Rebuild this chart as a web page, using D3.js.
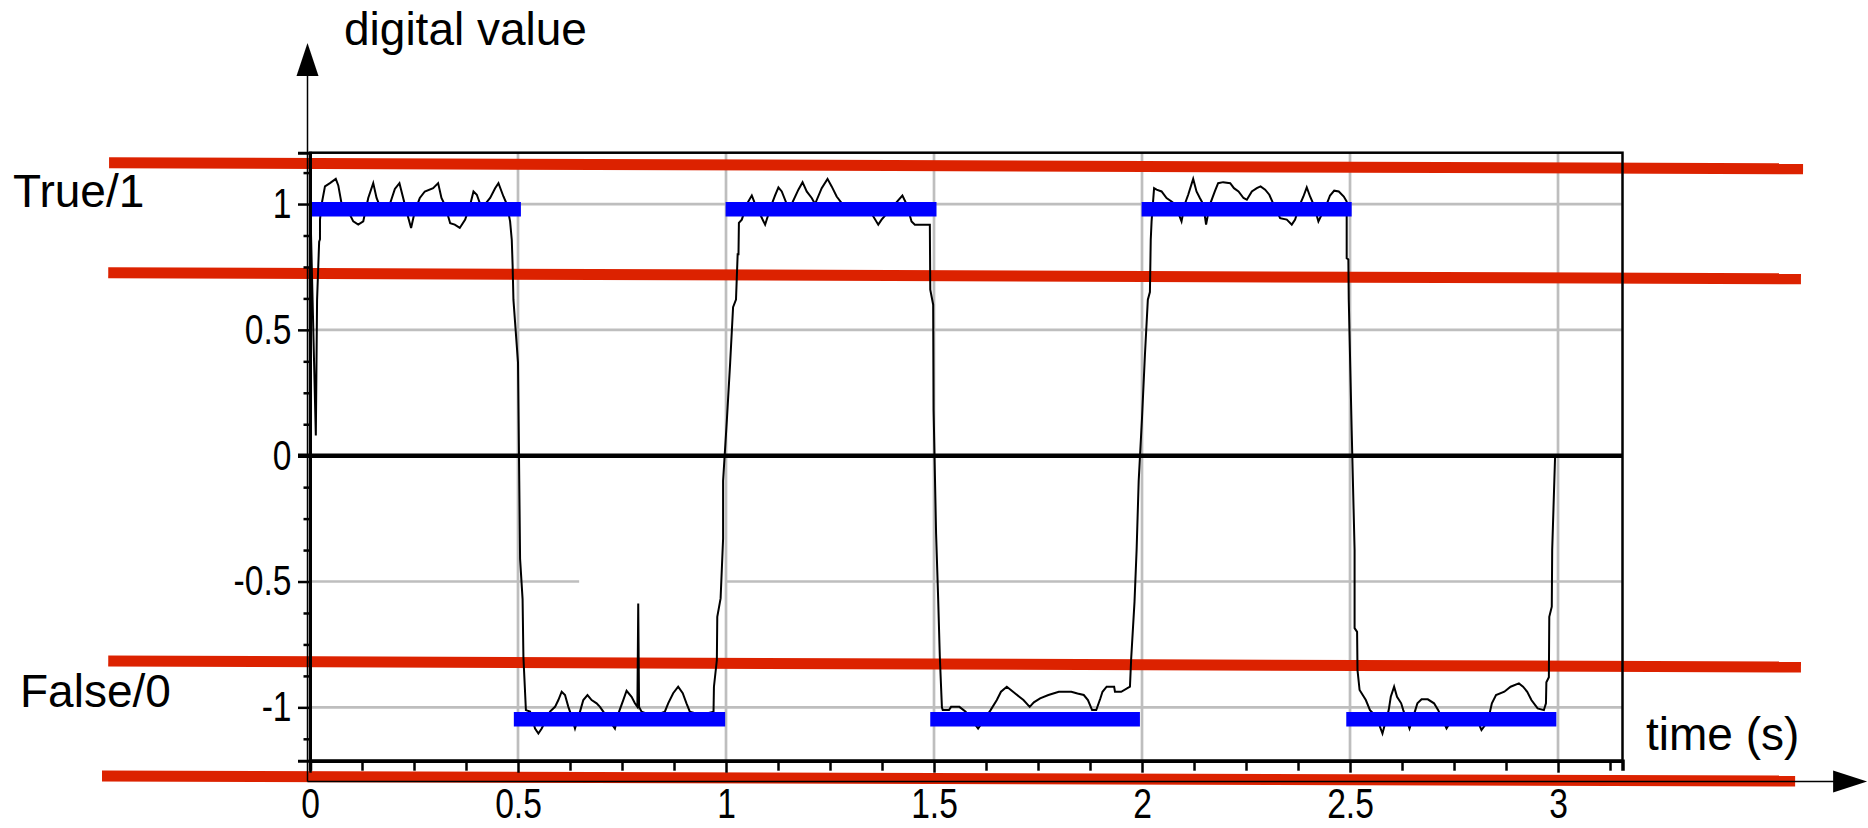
<!DOCTYPE html>
<html>
<head>
<meta charset="utf-8">
<script src="https://cdn.jsdelivr.net/npm/d3@7"></script>
<style>
body { margin: 0; background: #fff; }
text { font-family: "Liberation Sans", Arial, sans-serif; }
</style>
</head>
<body>
<script>
let signalT = [0.001, 0.002, 0.014, 0.017, 0.022, 0.024, 0.024, 0.028, 0.036, 0.048, 0.062, 0.068, 0.076, 0.084, 0.104, 0.116, 0.128, 0.140, 0.152, 0.160, 0.166, 0.192, 0.204, 0.215, 0.224, 0.232, 0.243, 0.252, 0.264, 0.276, 0.296, 0.308, 0.316, 0.324, 0.337, 0.348, 0.360, 0.373, 0.385, 0.393, 0.401, 0.409, 0.421, 0.433, 0.445, 0.453, 0.465, 0.473, 0.481, 0.485,
    0.487, 0.489, 0.500, 0.505, 0.511, 0.513, 0.519,
    0.529, 0.541, 0.549, 0.557, 0.577, 0.589, 0.597, 0.605, 0.613, 0.621, 0.625, 0.637, 0.649, 0.657, 0.667, 0.677, 0.689, 0.697, 0.705, 0.733, 0.743, 0.753, 0.761, 0.773, 0.781, 0.787, 0.789, 0.791, 0.797, 0.825, 0.853, 0.861, 0.873, 0.885, 0.896, 0.905, 0.913, 0.940, 0.970, 0.971, 0.978, 0.979, 0.987,
    0.993, 0.993, 1.002, 1.010, 1.017, 1.024, 1.028, 1.030, 1.031, 1.038,
    1.050, 1.062, 1.070, 1.094, 1.110, 1.118, 1.126, 1.134, 1.146, 1.158, 1.174, 1.184, 1.194, 1.206, 1.214, 1.230, 1.244, 1.254, 1.266, 1.278, 1.294, 1.330, 1.342, 1.366, 1.374, 1.406, 1.424, 1.434, 1.446, 1.454, 1.490,
    1.491, 1.498, 1.499, 1.505, 1.510, 1.514, 1.519,
    1.521, 1.536, 1.541, 1.561, 1.576, 1.606, 1.636, 1.651, 1.661, 1.675, 1.690, 1.705, 1.715, 1.730, 1.740, 1.755, 1.775, 1.800, 1.830, 1.845, 1.860, 1.870, 1.880, 1.890, 1.900, 1.905, 1.915, 1.933, 1.935, 1.950, 1.971,
    1.974, 1.982, 1.987, 1.992, 2.000, 2.007, 2.014, 2.019, 2.021, 2.023, 2.029,
    2.035, 2.047, 2.059, 2.071, 2.079, 2.095, 2.103, 2.111, 2.123, 2.131, 2.139, 2.147, 2.154, 2.163, 2.175, 2.183, 2.195, 2.212, 2.221, 2.232, 2.244, 2.252, 2.264, 2.276, 2.285, 2.296, 2.306, 2.316, 2.332, 2.348, 2.360, 2.368, 2.380, 2.388, 2.396, 2.404, 2.412, 2.424, 2.444, 2.452, 2.462, 2.473, 2.485, 2.492,
    2.492, 2.496, 2.497, 2.504, 2.511, 2.511, 2.517, 2.518,
    2.523, 2.538, 2.548, 2.563, 2.578, 2.593, 2.598, 2.606, 2.613, 2.623, 2.628, 2.643, 2.657, 2.662, 2.672, 2.687, 2.702, 2.712, 2.732, 2.752, 2.802, 2.816, 2.831, 2.841, 2.851, 2.871, 2.886, 2.906, 2.916, 2.926, 2.936, 2.951, 2.966, 2.971,
    2.972, 2.978, 2.979, 2.985, 2.986, 2.993];
let signalV = [0.08, 0.91, 0.08, 0.62, 0.85, 0.86, 0.938, 1.0, 1.07, 1.083, 1.10, 1.074, 1.0, 0.997, 0.931, 0.918, 0.931, 1.024, 1.083, 1.024, 1.0, 1.0, 1.06, 1.083, 1.024, 0.971, 0.905, 0.971, 1.024, 1.05, 1.063, 1.083, 1.024, 0.997, 0.924, 0.918, 0.905, 0.938, 0.997, 1.05, 1.037, 1.0, 1.0, 1.024, 1.063, 1.083, 1.03, 1.0, 0.931, 0.858,
    0.76, 0.62, 0.37, -0.41, -0.57, -0.80, -1.011,
    -1.017, -1.084, -1.104, -1.084, -1.017, -0.998, -0.971, -0.938, -0.951, -0.998, -1.017, -1.084, -1.017, -0.971, -0.951, -0.971, -0.984, -0.998, -1.017, -1.084, -1.017, -0.971, -0.934, -0.958, -0.984, -0.998, -0.587, -0.998, -1.017, -1.035, -1.017, -0.984, -0.944, -0.918, -0.944, -0.984, -1.017, -1.03, -1.017, -0.918, -0.812, -0.64, -0.567,
    -0.33, -0.10, 0.14, 0.37, 0.59, 0.62, 0.80, 0.80, 0.925, 0.938,
    1.0, 1.034, 1.0, 0.918, 1.0, 1.034, 1.066, 1.05, 1.0, 1.0, 1.057, 1.087, 1.05, 1.024, 1.0, 1.063, 1.10, 1.07, 1.03, 1.004, 1.0, 1.0, 0.984, 0.918, 0.938, 1.0, 1.034, 1.0, 0.931, 0.918, 0.918,
    0.66, 0.60, 0.18, -0.31, -0.57, -0.80, -1.0,
    -1.011, -1.011, -0.998, -0.998, -1.017, -1.084, -1.011, -0.971, -0.938, -0.918, -0.938, -0.958, -0.971, -0.998, -0.980, -0.964, -0.951, -0.938, -0.938, -0.945, -0.951, -0.971, -1.011, -1.011, -0.964, -0.938, -0.918, -0.918, -0.938, -0.938, -0.918,
    -0.805, -0.58, -0.375, -0.10, 0.15, 0.40, 0.62, 0.65, 0.858, 0.931, 1.063,
    1.057, 1.050, 1.024, 1.01, 1.0, 0.931, 1.0, 1.037, 1.10, 1.05, 1.024, 1.0, 0.918, 0.997, 1.05, 1.083, 1.087, 1.083, 1.063, 1.05, 1.024, 1.017, 1.05, 1.063, 1.07, 1.057, 1.037, 1.0, 0.944, 0.938, 0.918, 0.938, 1.0, 1.03, 1.066, 1.03, 1.0, 0.931, 1.0, 1.034, 1.053, 1.05, 1.03, 1.01,
    0.785, 0.78, 0.62, 0.10, -0.375, -0.685, -0.70, -0.852,
    -0.931, -0.971, -1.011, -1.037, -1.104, -1.011, -0.958, -0.918, -0.958, -0.984, -1.011, -1.084, -1.011, -0.984, -0.968, -0.968, -0.984, -1.011, -1.084, -1.031, -1.037, -1.090, -1.057, -0.984, -0.951, -0.938, -0.918, -0.905, -0.918, -0.938, -0.971, -1.004, -1.011, -0.984,
    -0.90, -0.88, -0.64, -0.60, -0.375, 0.0];

let xTickLabels = [0, 0.5, 1, 1.5, 2, 2.5, 3];
let yTickLabels = [-1, -0.5, 0, 0.5, 1];
// interpreted logic levels (blue) and their time spans
let trueSpans = [[0, 0.507], [0.999, 1.506], [1.999, 2.504]];
let falseSpans = [[0.490, 0.998], [1.491, 1.995], [2.491, 2.996]];
let trueLevel = 0.979;
let falseLevel = -1.047;
// red threshold bands: [t start, value start, t end, value end]
let thresholds = [[-0.483, 1.164, 3.589, 1.140], [-0.485, 0.727, 3.584, 0.703],
    [-0.485, -0.816, 3.584, -0.840], [-0.500, -1.273, 3.570, -1.293]];
// horizontal grid pieces: [value, t start, t end]
let gridRows = [[1, 0, 3.155], [0.5, 0, 3.155], [-0.5, 0, 0.647], [-0.5, 1.0, 3.155], [-1, 0, 3.155]];

let width = 1868, height = 828;
let svg = d3.select('body').append('svg')
    .attr('width', width)
    .attr('height', height);

let x = d3.scaleLinear().domain([0, 3.155]).range([310, 1622.5]);
let y = d3.scaleLinear().domain([-1.212, 1.204]).range([760.7, 152.7]);

// grid
svg.append('g').selectAll('line')
    .data(gridRows)
    .enter().append('line')
    .attr('x1', d => x(d[1])).attr('x2', d => x(d[2]))
    .attr('y1', d => y(d[0])).attr('y2', d => y(d[0]))
    .attr('stroke', '#bebebe').attr('stroke-width', 2.7);
svg.append('g').selectAll('line')
    .data(xTickLabels.filter(d => d > 0))
    .enter().append('line')
    .attr('x1', d => x(d)).attr('x2', d => x(d))
    .attr('y1', y.range()[1]).attr('y2', y.range()[0])
    .attr('stroke', '#bebebe').attr('stroke-width', 2.7);

// red threshold lines
svg.append('g').selectAll('line')
    .data(thresholds)
    .enter().append('line')
    .attr('x1', d => x(d[0])).attr('y1', d => y(d[1]))
    .attr('x2', d => x(d[2])).attr('y2', d => y(d[3]))
    .attr('stroke', '#dc2200').attr('stroke-width', 11);

// zero line
svg.append('line')
    .attr('x1', x(0) - 12).attr('x2', x.range()[1])
    .attr('y1', y(0)).attr('y2', y(0))
    .attr('stroke', '#000').attr('stroke-width', 4.5);

// signal trace
let line = d3.line()
    .x(d => x(d[0]))
    .y(d => y(d[1]));
svg.append('path')
    .datum(d3.zip(signalT, signalV))
    .attr('d', line)
    .attr('fill', 'none')
    .attr('stroke', '#000')
    .attr('stroke-width', 2);

// logic level bars
let bars = trueSpans.map(s => [s[0], s[1], trueLevel])
    .concat(falseSpans.map(s => [s[0], s[1], falseLevel]));
svg.append('g').selectAll('line')
    .data(bars)
    .enter().append('line')
    .attr('x1', d => x(d[0])).attr('x2', d => x(d[1]))
    .attr('y1', d => y(d[2])).attr('y2', d => y(d[2]))
    .attr('stroke', '#0000ff').attr('stroke-width', 14.5);

// frame
svg.append('rect')
    .attr('x', x.range()[0]).attr('y', y.range()[1])
    .attr('width', x.range()[1] - x.range()[0])
    .attr('height', y.range()[0] - y.range()[1])
    .attr('fill', 'none').attr('stroke', '#000').attr('stroke-width', 2.5);

// axes
let isMajor = d => Math.abs(d * 2 - Math.round(d * 2)) < 1e-6;
let label = d => isMajor(d) ? String(Math.round(d * 2) / 2) : '';
let xAxis = d3.axisBottom(x)
    .tickValues(d3.range(26).map(i => i * 0.125))
    .tickSize(10)
    .tickFormat(label);
let gx = svg.append('g')
    .attr('transform', `translate(0,${y.range()[0]})`)
    .call(xAxis)
    .attr('font-size', 42)
    .attr('font-family', '"Liberation Sans", Arial, sans-serif');
gx.select('.domain').attr('stroke-width', 3.5);
gx.selectAll('.tick line').attr('stroke-width', 2.5).attr('y2', d => isMajor(d) ? 12 : 10);
gx.selectAll('.tick text').attr('y', 57).attr('dy', null).attr('transform', 'scale(0.8,1)');

let yAxis = d3.axisLeft(y)
    .tickValues(d3.range(-9, 10).map(i => i * 0.125))
    .tickSize(12)
    .tickFormat(label);
let gy = svg.append('g')
    .attr('transform', `translate(${x.range()[0]},0)`)
    .call(yAxis)
    .attr('font-size', 42)
    .attr('font-family', '"Liberation Sans", Arial, sans-serif');
gy.select('.domain').attr('stroke-width', 3);
gy.selectAll('.tick line').attr('stroke-width', 2.5).attr('x2', d => isMajor(d) ? -12 : -6.5);
gy.selectAll('.tick text').attr('x', -18.5 / 0.8).attr('transform', 'scale(0.8,1)');

// arrow axes
let ax0 = x(0) - 2.5, ay0 = y(-1.295);
let yTip = y(1.64), xTip = x(3.743);
svg.append('line').attr('x1', ax0).attr('x2', ax0).attr('y1', ay0).attr('y2', yTip + 30)
    .attr('stroke', '#000').attr('stroke-width', 1.5);
svg.append('line').attr('x1', ax0).attr('x2', xTip - 30).attr('y1', ay0).attr('y2', ay0)
    .attr('stroke', '#000').attr('stroke-width', 1.5);
svg.append('path')
    .attr('d', `M${ax0},${yTip}L${ax0 - 11},${yTip + 33}L${ax0 + 11},${yTip + 33}Z`)
    .attr('fill', '#000');
svg.append('path')
    .attr('d', `M${xTip},${ay0}L${xTip - 34},${ay0 - 11}L${xTip - 34},${ay0 + 11}Z`)
    .attr('fill', '#000');

// labels
svg.append('text').attr('x', 344).attr('y', 45).attr('font-size', 46).text('digital value');
svg.append('text').attr('x', 1646).attr('y', 750).attr('font-size', 46).text('time (s)');
svg.append('text').attr('x', 13).attr('y', 207).attr('font-size', 46).text('True/1');
svg.append('text').attr('x', 20).attr('y', 707).attr('font-size', 46).text('False/0');
</script>
</body>
</html>
